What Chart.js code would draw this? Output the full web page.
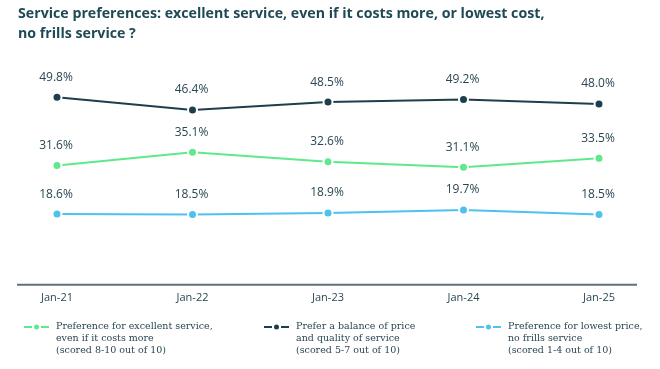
<!DOCTYPE html>
<html>
<head>
<meta charset="utf-8">
<script src="https://cdn.jsdelivr.net/npm/chart.js@4.4.1/dist/chart.umd.min.js"></script>
<style>
  html, body { margin: 0; padding: 0; background: #fff; }
  #wrap { width: 660px; height: 369px; position: relative; }
</style>
</head>
<body>
<div id="wrap"><canvas id="prefChart"></canvas></div>
<script>
// ====== Data ======
const months = ['Jan-21', 'Jan-22', 'Jan-23', 'Jan-24', 'Jan-25'];
const excellentService = [31.6, 35.1, 32.6, 31.1, 33.5];
const balancedService = [49.8, 46.4, 48.5, 49.2, 48.0];
const lowestPrice = [18.6, 18.5, 18.9, 19.7, 18.5];

const titleLines = [
  'Service preferences: excellent service, even if it costs more, or lowest cost,',
  'no frills service ?'
];
const legendLines = [
  ['Preference for excellent service,', 'even if it costs more', '(scored 8-10 out of 10)'],
  ['Prefer a balance of price', 'and quality of service', '(scored 5-7 out of 10)'],
  ['Preference for lowest price,', 'no frills service', '(scored 1-4 out of 10)']
];

const GREEN = '#5eea8c';
const DARK = '#1d3f4d';
const BLUE = '#4fc1ef';
const TEXT = '#2a4753';

// title, data labels, axis line and legend drawn on the canvas
const decorPlugin = {
  id: 'decor',
  afterDatasetsDraw(chart) {
    const ctx = chart.ctx;
    const area = chart.chartArea;
    ctx.save();
    // labels above points
    ctx.font = '12px "Open Sans"';
    ctx.fillStyle = TEXT;
    ctx.textAlign = 'center';
    ctx.textBaseline = 'middle';
    chart.data.datasets.forEach((ds, i) => {
      chart.getDatasetMeta(i).data.forEach((pt, j) => {
        ctx.fillText(ds.data[j].toFixed(1) + '%', pt.x - 1, pt.y - 20);
      });
    });
    // bottom axis line
    ctx.strokeStyle = '#5d727b';
    ctx.lineWidth = 2;
    ctx.beginPath();
    ctx.moveTo(17, area.bottom + 1);
    ctx.lineTo(637, area.bottom + 1);
    ctx.stroke();
    // title
    ctx.font = 'bold 14.2px "Open Sans"';
    ctx.fillStyle = '#1f4954';
    ctx.textAlign = 'left';
    titleLines.forEach((t, i) => ctx.fillText(t, 18, 14 + i * 19.5));
    // legend
    const legX = [24, 264, 476];
    const legColors = [GREEN, DARK, BLUE];
    legendLines.forEach((lines, i) => {
      const x = legX[i];
      ctx.strokeStyle = legColors[i];
      ctx.fillStyle = legColors[i];
      ctx.lineWidth = 2;
      ctx.beginPath();
      ctx.moveTo(x, 327); ctx.lineTo(x + 8, 327);
      ctx.moveTo(x + 17, 327); ctx.lineTo(x + 25, 327);
      ctx.stroke();
      ctx.beginPath();
      ctx.arc(x + 12.5, 327, 2.5, 0, Math.PI * 2);
      ctx.fill();
      ctx.font = '9.5px "DejaVu Serif"';
      ctx.fillStyle = TEXT;
      lines.forEach((l, k) => ctx.fillText(l, x + 32, 327 + k * 12));
    });
    ctx.restore();
  }
};

function makeSet(label, data, color) {
  return {
    label: label,
    data: data,
    borderColor: color,
    backgroundColor: color,
    borderWidth: 2,
    pointRadius: 4.5,
    pointBorderWidth: 2,
    pointBorderColor: '#fff',
    pointBackgroundColor: color,
    tension: 0,
    fill: false
  };
}

const ctx = document.getElementById('prefChart');
new Chart(ctx, {
  type: 'line',
  data: {
    labels: months,
    datasets: [
      makeSet(legendLines[1].join(' '), balancedService, DARK),
      makeSet(legendLines[0].join(' '), excellentService, GREEN),
      makeSet(legendLines[2].join(' '), lowestPrice, BLUE)
    ]
  },
  options: {
    responsive: true,
    maintainAspectRatio: false,
    animation: false,
    layout: { padding: { top: 59, left: 57, right: 61, bottom: 58 } },
    plugins: {
      legend: { display: false },
      title: { display: false },
      tooltip: { enabled: false }
    },
    scales: {
      x: {
        offset: false,
        grid: { display: false, drawTicks: false },
        border: { display: false },
        ticks: { color: TEXT, font: { family: 'Open Sans', size: 11 }, padding: 7, maxRotation: 0 }
      },
      y: { display: false, min: 0, max: 60 }
    }
  },
  plugins: [decorPlugin]
});
</script>
</body>
</html>
